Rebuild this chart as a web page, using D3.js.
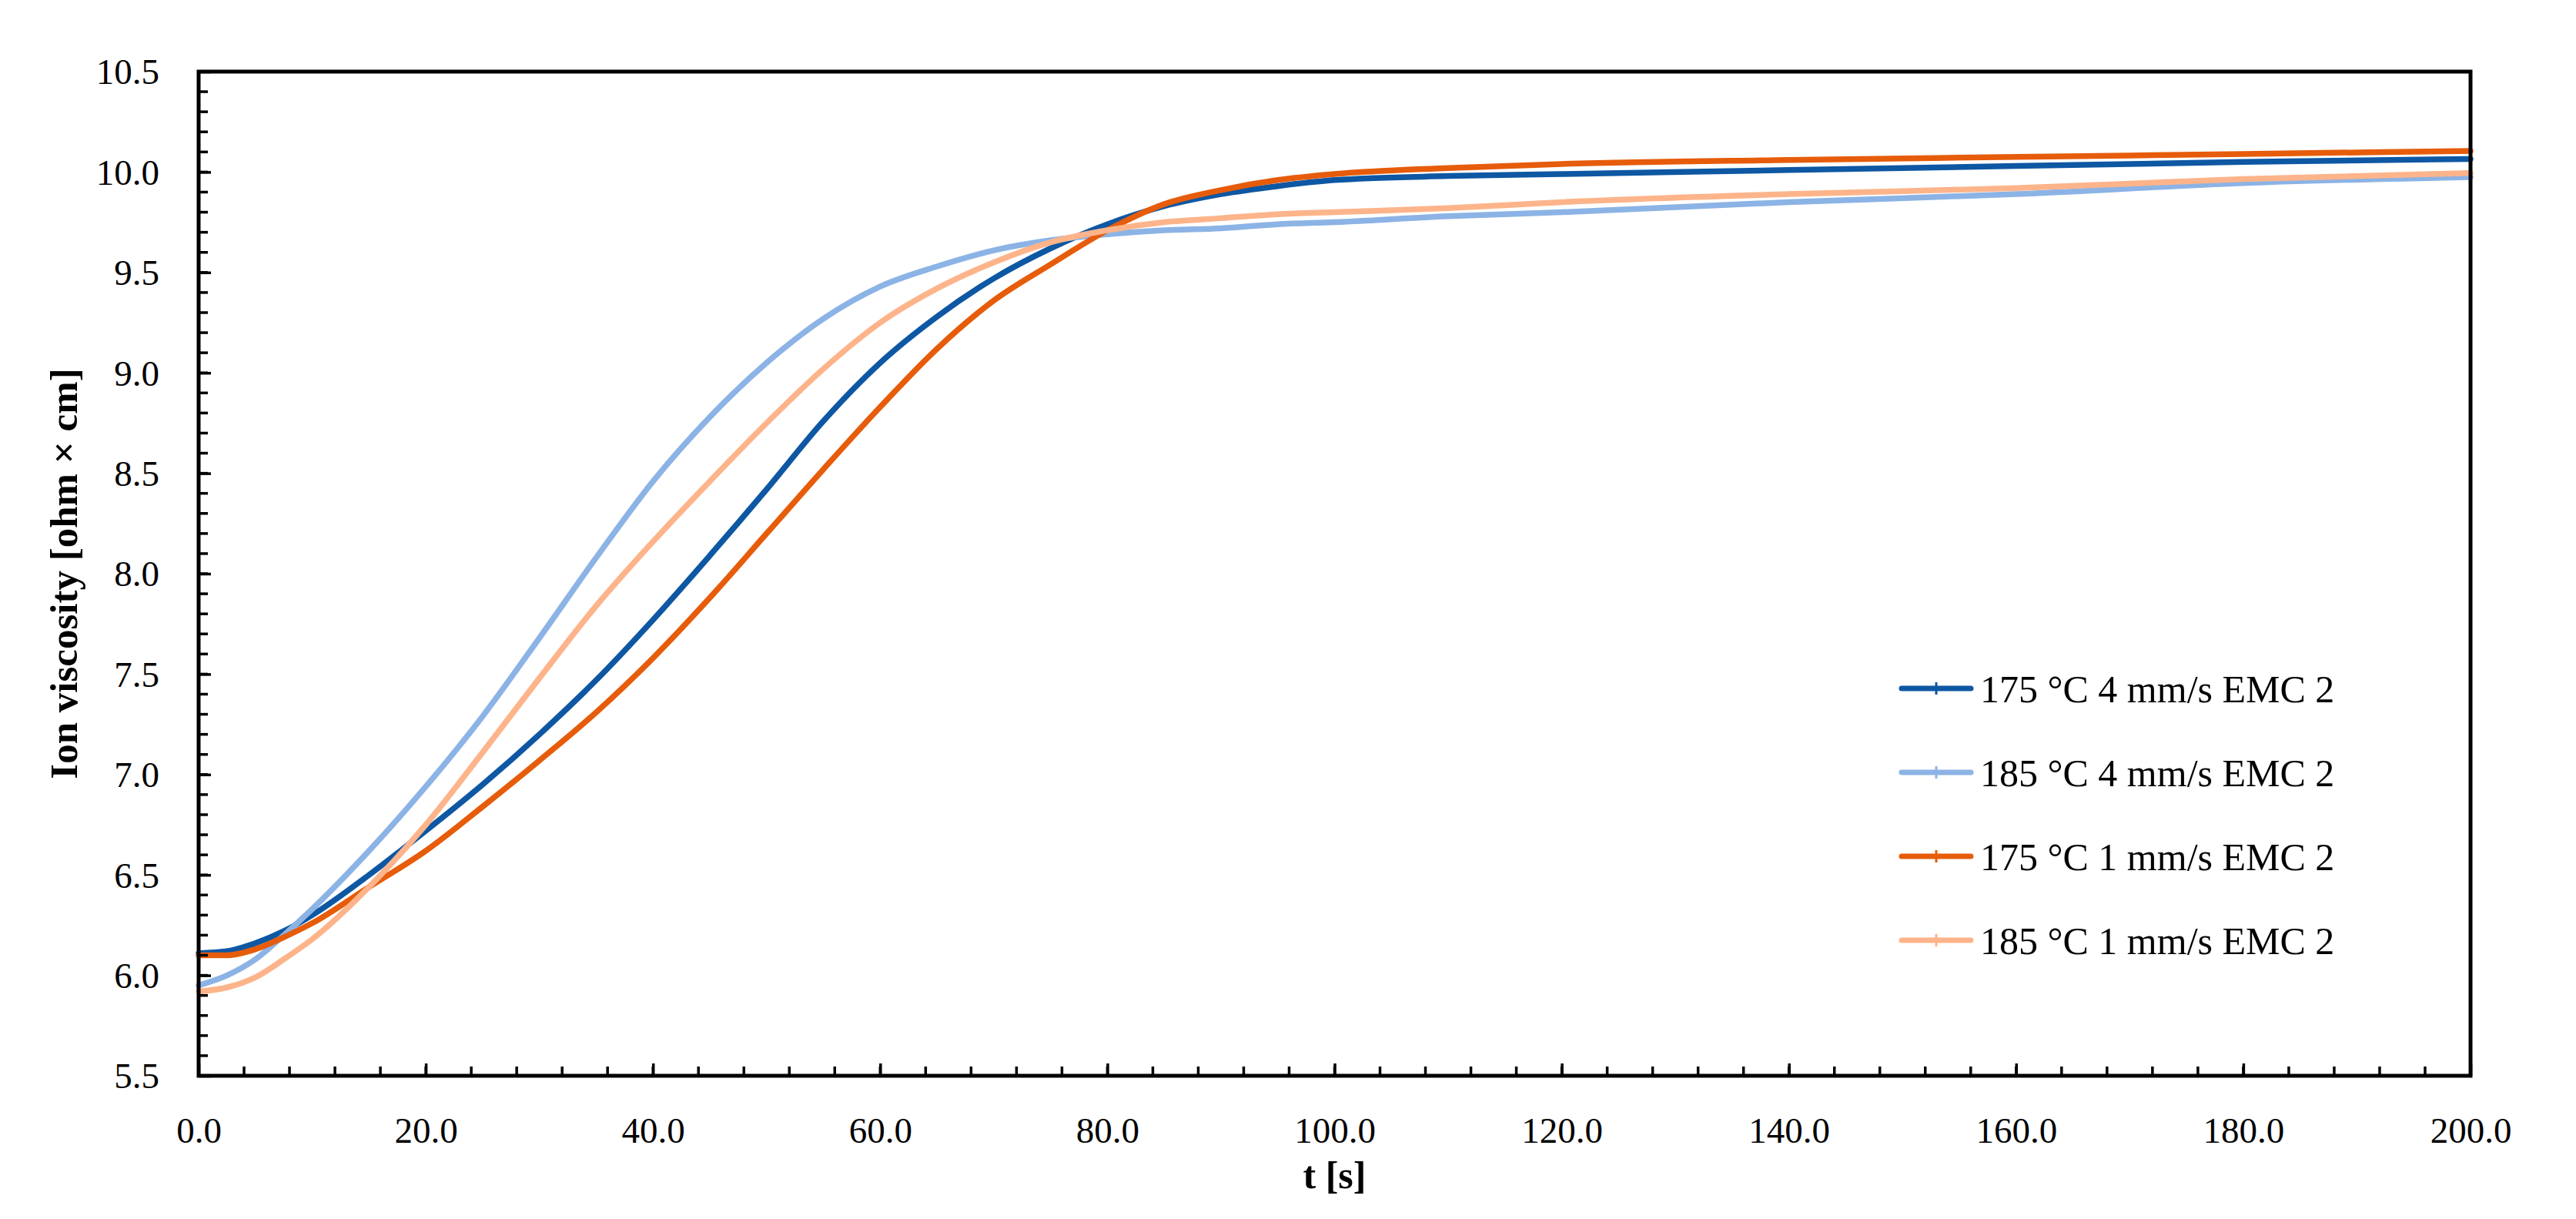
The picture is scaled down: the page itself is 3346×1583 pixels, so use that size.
<!DOCTYPE html>
<html><head><meta charset="utf-8">
<script src="https://cdn.jsdelivr.net/npm/d3@7"></script>
<style>
html,body{margin:0;padding:0;background:#fff;}
svg{display:block;}
text{font-family:"Palatino Linotype","Book Antiqua",Palatino,"Liberation Serif",serif;fill:#000;}
</style></head>
<body>
<svg id="chart" width="3346" height="1583"></svg>
<script>
// time axis (s)
const times = [0,2.5,5,7.5,10,15,20,25,30,35,40,45,50,55,60,65,70,75,80,85,90,95,100,110,120,140,160,180,200];
// Ion viscosity [ohm x cm]
const s175_4 = [6.11,6.12,6.16,6.22,6.30,6.50,6.72,6.95,7.20,7.47,7.77,8.09,8.42,8.76,9.05,9.28,9.47,9.62,9.74,9.83,9.89,9.93,9.96,9.98,9.99,10.01,10.03,10.05,10.065];
const s185_4 = [5.95,6.00,6.08,6.20,6.33,6.62,6.94,7.29,7.68,8.08,8.46,8.78,9.05,9.27,9.43,9.53,9.61,9.66,9.69,9.71,9.72,9.74,9.75,9.78,9.80,9.85,9.89,9.945,9.975];
const s175_1 = [6.10,6.10,6.13,6.19,6.26,6.44,6.62,6.84,7.07,7.31,7.58,7.88,8.20,8.52,8.83,9.12,9.36,9.54,9.71,9.84,9.91,9.96,9.99,10.02,10.04,10.06,10.075,10.09,10.105];
const s185_1 = [5.92,5.94,5.99,6.08,6.18,6.44,6.75,7.11,7.48,7.84,8.16,8.46,8.75,9.02,9.25,9.42,9.55,9.65,9.71,9.75,9.77,9.79,9.80,9.82,9.85,9.89,9.92,9.965,9.995];
const seriesNames = ["175 °C 4 mm/s EMC 2","185 °C 4 mm/s EMC 2","175 °C 1 mm/s EMC 2","185 °C 1 mm/s EMC 2"];
const seriesColors = ["#0E57A3","#8CB3E5","#E65C0A","#FDB48A"];
const seriesValues = [s175_4, s185_4, s175_1, s185_1];
const xTickValues = [0,20,40,60,80,100,120,140,160,180,200];
const yTickValues = [5.5,6.0,6.5,7.0,7.5,8.0,8.5,9.0,9.5,10.0,10.5];
const xTitle = "t [s]";
const yTitle = "Ion viscosity [ohm × cm]";

const L = 258, R = 3209, T = 93, B = 1397;
const svg = d3.select("#chart");
const x = d3.scaleLinear().domain([0,200]).range([L,R]);
const y = d3.scaleLinear().domain([5.5,10.5]).range([B,T]);
const fmt = d3.format(".1f");

// series lines
const line = d3.line().x(d=>x(d[0])).y(d=>y(d[1])).curve(d3.curveMonotoneX);
const g = svg.append("g");
seriesValues.forEach((vals,i)=>{
  g.append("path")
    .datum(times.map((t,j)=>[t,vals[j]]))
    .attr("d",line).attr("fill","none")
    .attr("stroke",seriesColors[i]).attr("stroke-width",7.5)
    .attr("stroke-linejoin","round").attr("stroke-linecap","round");
});

// minor ticks
const xMinor = d3.range(0,200.001,4);
const yMinor = d3.range(55,105.001,1).map(v=>v/10);
svg.append("g").selectAll("line").data(xMinor).join("line")
  .attr("x1",d=>x(d)).attr("x2",d=>x(d)).attr("y1",B).attr("y2",B-12)
  .attr("stroke","#000").attr("stroke-width",3.5);
svg.append("g").selectAll("line").data(yMinor).join("line")
  .attr("y1",d=>y(d)).attr("y2",d=>y(d)).attr("x1",L).attr("x2",L+12)
  .attr("stroke","#000").attr("stroke-width",3.5);

// axes with major ticks (inward)
const xAxis = svg.append("g").attr("transform",`translate(0,${B})`)
  .call(d3.axisBottom(x).tickValues(xTickValues).tickFormat(fmt).tickSize(-16).tickPadding(0));
xAxis.select(".domain").remove();
xAxis.selectAll(".tick line").attr("stroke","#000").attr("stroke-width",3.5);
xAxis.selectAll(".tick text").attr("y",87).attr("dy",0).style("font-size","47px");

const yAxis = svg.append("g").attr("transform",`translate(${L},0)`)
  .call(d3.axisLeft(y).tickValues(yTickValues).tickFormat(fmt).tickSize(-16).tickPadding(0));
yAxis.select(".domain").remove();
yAxis.selectAll(".tick line").attr("stroke","#000").attr("stroke-width",3.5);
yAxis.selectAll(".tick text").attr("x",-51).attr("dy","0.34em").style("font-size","47px");

// frame
svg.append("rect").attr("x",L).attr("y",T).attr("width",R-L).attr("height",B-T)
  .attr("fill","none").attr("stroke","#000").attr("stroke-width",5);

// axis titles
svg.append("text").attr("x",(L+R)/2).attr("y",1543).attr("text-anchor","middle")
  .style("font-size","50px").style("font-weight","bold").text(xTitle);
svg.append("text").attr("transform",`translate(100,${(T+B)/2}) rotate(-90)`)
  .attr("text-anchor","middle").style("font-size","51px").style("font-weight","bold").text(yTitle);

// legend
const lg = svg.append("g");
seriesNames.forEach((name,i)=>{
  const cy = 894 + i*109;
  lg.append("line").attr("x1",2470).attr("x2",2560).attr("y1",cy).attr("y2",cy)
    .attr("stroke",seriesColors[i]).attr("stroke-width",7).attr("stroke-linecap","round");
  lg.append("line").attr("x1",2515).attr("x2",2515).attr("y1",cy-8).attr("y2",cy+8)
    .attr("stroke",seriesColors[i]).attr("stroke-width",3);
  lg.append("text").attr("x",2572).attr("y",cy).attr("dy","0.35em")
    .style("font-size","50px").text(name);
});
</script>
</body></html>
